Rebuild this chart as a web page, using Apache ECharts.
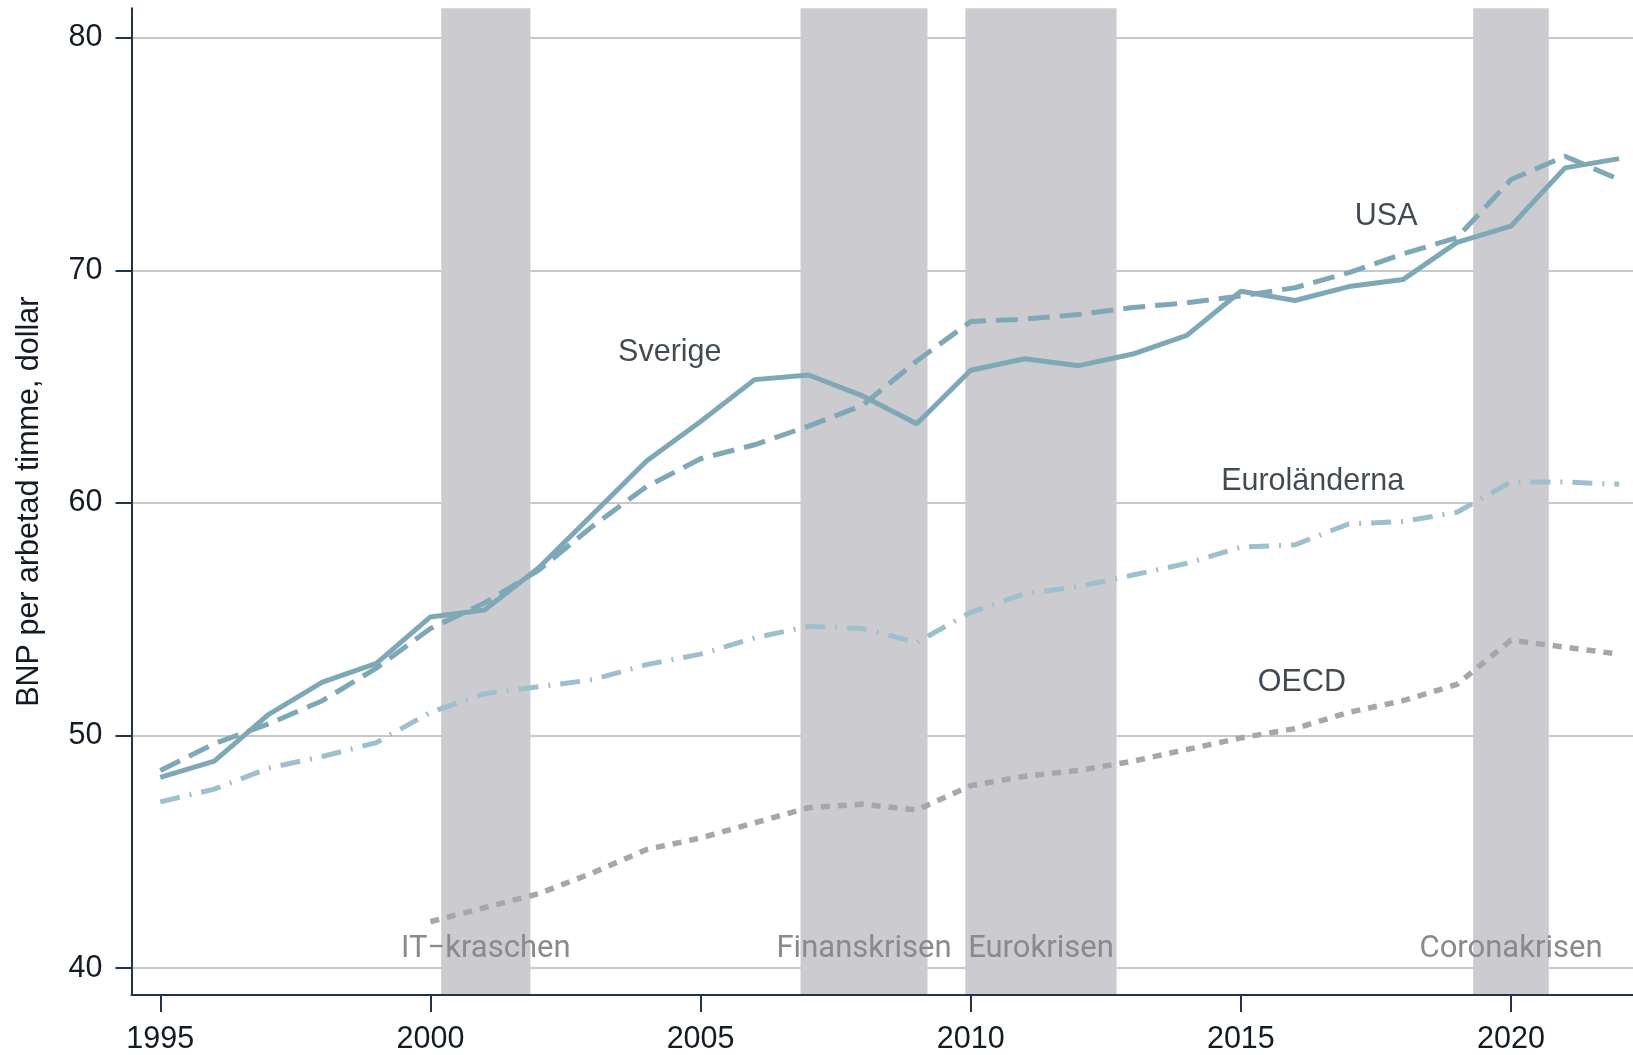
<!DOCTYPE html>
<html><head><meta charset="utf-8">
<script src="https://cdn.jsdelivr.net/npm/echarts@6/dist/echarts.min.js"></script>
<style>html,body{margin:0;padding:0;background:#fff}#c{width:1633px;height:1055px}</style>
</head><body><div id="c"></div>
<script>
const years = [1995,1996,1997,1998,1999,2000,2001,2002,2003,2004,2005,2006,2007,2008,2009,2010,2011,2012,2013,2014,2015,2016,2017,2018,2019,2020,2021,2022];
const sverige = [48.2,48.9,50.9,52.3,53.1,55.1,55.4,57.2,59.5,61.8,63.5,65.3,65.5,64.6,63.4,65.7,66.2,65.9,66.4,67.2,69.1,68.7,69.3,69.6,71.2,71.9,74.4,74.8];
const usa = [48.5,49.65,50.5,51.5,52.9,54.6,55.7,57.1,59.0,60.7,61.9,62.5,63.3,64.2,66.1,67.8,67.9,68.1,68.4,68.6,68.9,69.25,69.9,70.7,71.4,73.9,74.9,73.9];
const euro = [47.15,47.7,48.6,49.1,49.7,51.0,51.8,52.1,52.4,53.05,53.5,54.2,54.7,54.6,54.0,55.3,56.1,56.4,56.9,57.4,58.1,58.2,59.1,59.2,59.6,60.9,60.9,60.8];
const oecd = [null,null,null,null,null,42.0,42.6,43.2,44.1,45.1,45.6,46.25,46.9,47.05,46.8,47.85,48.25,48.5,48.9,49.4,49.9,50.3,51.0,51.5,52.2,54.1,53.8,53.5];
const yTicks = [40,50,60,70,80];
const xTicks = [1995,2000,2005,2010,2015,2020];
const crisisNames = ['IT\u2212kraschen','Finanskrisen','Eurokrisen','Coronakrisen'];
const crisisStart = [2000.2,2006.85,2009.9,2019.3];
const crisisEnd = [2001.85,2009.2,2012.7,2020.7];
const seriesNames = ['Sverige','USA','Euroländerna','OECD'];
const yTitle = 'BNP per arbetad timme, dollar';

// label anchor positions in data coordinates (layout, not data)
const labelAnchors = [[2004.43,66.45],[2017.69,72.30],[2016.33,60.90],[2016.13,52.26]];

const pair = arr => years.map((y,i)=>[y, arr[i]]);
const dark = '#121b26';
const axisCol = '#22334a';
const blue = '#7ea8b6';
const lightBlue = '#9dc0cc';
const grey = '#a7a7a7';
const font = 'Liberation Sans, Arial, sans-serif';

const chart = echarts.init(document.getElementById('c'), null, {renderer:'canvas'});
chart.setOption({
  animation:false,
  backgroundColor:'#ffffff',
  grid:{left:131.5,right:0,top:8.3,bottom:60,containLabel:false},
  xAxis:{
    type:'value', min:1994.467, max:2022.258, z:10,
    axisLine:{show:true,lineStyle:{color:axisCol,width:2}},
    axisTick:{show:true,length:17,lineStyle:{color:axisCol,width:2},customValues:xTicks},
    axisLabel:{show:true,customValues:xTicks,margin:29,color:dark,fontSize:30.5,fontFamily:font,formatter:v=>String(v)},
    splitLine:{show:false}
  },
  yAxis:{
    type:'value', min:38.85, max:81.26,
    name:yTitle, nameLocation:'middle', nameRotate:90, nameGap:86,
    nameTextStyle:{color:dark,fontSize:30.5,fontFamily:font},
    axisLine:{show:true,lineStyle:{color:axisCol,width:2}},
    axisTick:{show:true,length:16,lineStyle:{color:axisCol,width:2},customValues:yTicks},
    axisLabel:{show:true,customValues:yTicks,margin:29,color:dark,fontSize:30.5,fontFamily:font,formatter:v=>String(v)},
    splitLine:{show:true,lineStyle:{color:'#b6b6b6',width:1.5}}
  },
  series:[
    {
      name:'bands', type:'line', data:[], silent:true,
      markArea:{
        silent:true,
        itemStyle:{color:'#cccbd0'},
        label:{show:true,position:'insideBottom',distance:30,color:'#8a8a8a',fontSize:31,fontFamily:'Roboto, sans-serif'},
        data:crisisNames.map((n,i)=>[{name:n,xAxis:crisisStart[i]},{xAxis:crisisEnd[i]}])
      }
    },
    {name:seriesNames[3],type:'line',data:pair(oecd),symbol:'none',connectNulls:false,
      lineStyle:{color:grey,width:5.5,type:[9,8],cap:'butt'},z:3},
    {name:seriesNames[2],type:'line',data:pair(euro),symbol:'none',
      lineStyle:{color:lightBlue,width:5,type:[20,10,2,10],cap:'butt'},z:3},
    {name:seriesNames[1],type:'line',data:pair(usa),symbol:'none',
      lineStyle:{color:blue,width:5,type:[22,10],cap:'butt'},z:4},
    {name:seriesNames[0],type:'line',data:pair(sverige),symbol:'none',
      lineStyle:{color:blue,width:5},z:5},
    {name:'labels',type:'scatter',symbolSize:0,silent:true,z:6,
      data:seriesNames.map((n,i)=>({name:n,value:labelAnchors[i]})),
      label:{show:true,position:'inside',formatter:p=>p.name,color:dark,fontSize:30.5,fontFamily:font}
    }
  ]
});
</script>
</body></html>
